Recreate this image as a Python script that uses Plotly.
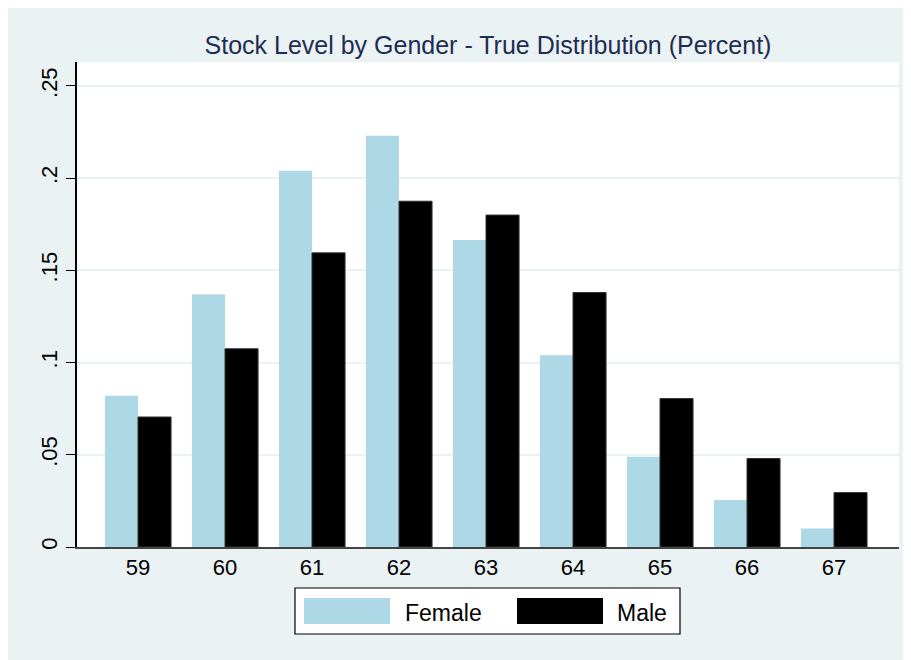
import plotly.graph_objects as go

ages = [59, 60, 61, 62, 63, 64, 65, 66, 67]
female = [0.082, 0.137, 0.204, 0.223, 0.1665, 0.104, 0.049, 0.0255, 0.010]
male = [0.0705, 0.1075, 0.1595, 0.1875, 0.180, 0.138, 0.0805, 0.048, 0.0295]
ytick_vals = [0, 0.05, 0.1, 0.15, 0.2, 0.25]
ytick_text = ["0", ".05", ".1", ".15", ".2", ".25"]

BG = "#EAF2F3"
FONT = "Liberation Sans, Arial, Helvetica, sans-serif"

fig = go.Figure()
fig.add_trace(go.Bar(x=ages, y=female, name="Female",
                     marker=dict(color="#ADD8E6", line=dict(width=0))))
fig.add_trace(go.Bar(x=ages, y=male, name="Male",
                     marker=dict(color="#000000", line=dict(color="#333333", width=1))))

OFF = 8  # page body margin
W, H = 903, 652
L, T = 77 - OFF, 62 - OFF
R = W - (899 - OFF)
B = H - (547 - OFF)
pw, ph = W - L - R, H - T - B

def px_x(p):
    return (p - OFF - L) / pw

def px_y(p):
    return (H - B - (p - OFF)) / ph

shapes = [
    dict(type="rect", xref="paper", yref="paper",
         x0=px_x(295), x1=px_x(680), y0=px_y(634), y1=px_y(588),
         fillcolor="white", line=dict(color="black", width=1.2)),
    dict(type="rect", xref="paper", yref="paper",
         x0=px_x(304), x1=px_x(390), y0=px_y(624), y1=px_y(598),
         fillcolor="#ADD8E6", line=dict(width=0)),
    dict(type="rect", xref="paper", yref="paper",
         x0=px_x(517), x1=px_x(603), y0=px_y(624), y1=px_y(598),
         fillcolor="#000000", line=dict(width=0)),
]

annotations = [
    dict(text="Female", xref="paper", yref="paper", x=px_x(403), y=px_y(613),
         xanchor="left", yanchor="middle", showarrow=False,
         font=dict(family=FONT, size=23, color="black")),
    dict(text="Male", xref="paper", yref="paper", x=px_x(615), y=px_y(613),
         xanchor="left", yanchor="middle", showarrow=False,
         font=dict(family=FONT, size=23, color="black")),
]

fig.update_layout(
    width=W, height=H,
    margin=dict(l=L, r=R, t=T, b=B),
    paper_bgcolor=BG,
    plot_bgcolor="white",
    barmode="group", bargap=0.24, bargroupgap=0,
    showlegend=False,
    title=dict(text="Stock Level by Gender - True Distribution (Percent)",
               x=0.5, xref="paper", y=1 - (45 - OFF) / H, yref="container",
               xanchor="center", yanchor="middle",
               font=dict(family=FONT, size=25, color="#1E2D53")),
    font=dict(family=FONT, size=22, color="black"),
    shapes=shapes,
    annotations=annotations,
    xaxis=dict(range=[59 - 61 / 87, 67 + 65 / 87], tickvals=ages,
               ticktext=[str(a) for a in ages], showgrid=False,
               showline=True, linecolor="#444444", linewidth=1.5,
               ticks="", zeroline=False,
               tickfont=dict(family=FONT, size=22, color="black")),
    yaxis=dict(range=[0, 0.263], tickvals=ytick_vals, ticktext=ytick_text,
               tickangle=-90, showgrid=True, gridcolor=BG, gridwidth=1.5,
               showline=True, linecolor="black", linewidth=1.5,
               ticks="outside", ticklen=9, tickcolor="black", tickwidth=1.2,
               zeroline=False,
               tickfont=dict(family=FONT, size=22, color="black")),
)

fig.write_html("out.html")
